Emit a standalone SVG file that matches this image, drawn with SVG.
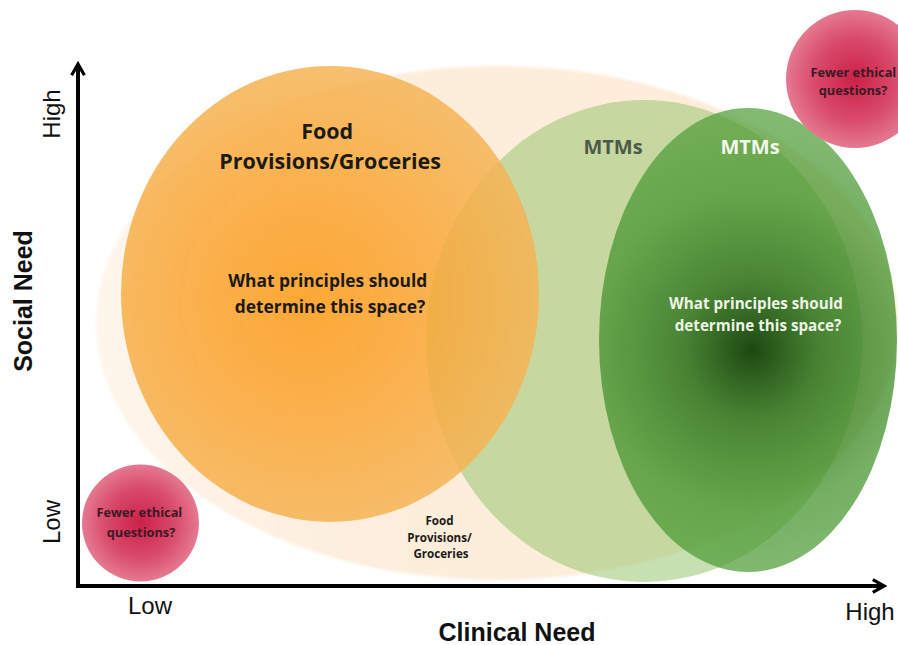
<svg xmlns="http://www.w3.org/2000/svg" width="898" height="645" viewBox="0 0 898 645">
  <style>
    .axis { fill: none; stroke: #000; stroke-width: 4; }
    .tick { font-family: "Liberation Sans", Arial, sans-serif; font-size: 24px; fill: #111; }
    .title { font-family: "Liberation Sans", Arial, sans-serif; font-size: 25px; font-weight: bold; fill: #111; }
    .lbl { font-family: "Open Sans", "Liberation Sans", sans-serif; font-weight: bold; text-anchor: middle; }
    .dark { fill: #1c1a16; }
    .pinktxt { fill: #3a1a26; font-size: 12.8px; }
  </style>
  <defs>
    <linearGradient id="paleFill" x1="0" y1="0" x2="1" y2="0">
      <stop offset="0" stop-color="#fef5eb"/>
      <stop offset="0.35" stop-color="#fdeedd"/>
      <stop offset="1" stop-color="#fdebd6"/>
    </linearGradient>
    <filter id="soft" x="-5%" y="-5%" width="110%" height="110%">
      <feGaussianBlur stdDeviation="1.5"/>
    </filter>
    <radialGradient id="orangeFill" gradientUnits="userSpaceOnUse" cx="305" cy="300" r="235">
      <stop offset="0" stop-color="#fd9b18"/>
      <stop offset="0.5" stop-color="#faa634"/>
      <stop offset="1" stop-color="#f5b455"/>
    </radialGradient>
    <radialGradient id="greenFill" gradientUnits="userSpaceOnUse" cx="752" cy="350" r="230">
      <stop offset="0" stop-color="#1d4812" stop-opacity="1"/>
      <stop offset="0.3" stop-color="#3a7a27" stop-opacity="0.9"/>
      <stop offset="0.7" stop-color="#47952f" stop-opacity="0.75"/>
      <stop offset="1" stop-color="#4c9c35" stop-opacity="0.7"/>
    </radialGradient>
    <radialGradient id="pinkFill" cx="0.5" cy="0.5" r="0.5">
      <stop offset="0" stop-color="#cc2048"/>
      <stop offset="0.6" stop-color="#d94b6b"/>
      <stop offset="1" stop-color="#e57990"/>
    </radialGradient>
    <marker id="chev" viewBox="0 0 10 10" refX="8" refY="5" markerWidth="4" markerHeight="4" orient="auto" markerUnits="strokeWidth">
      <path d="M1,1 L8,5 L1,9" fill="none" stroke="#000" stroke-width="2"/>
    </marker>
  </defs>

  <rect width="898" height="645" fill="#ffffff"/>

  <!-- broad food provision region -->
  <g id="food-region">
    <ellipse cx="497" cy="323" rx="401" ry="257" fill="url(#paleFill)" filter="url(#soft)"/>
    <text class="lbl dark" font-size="11.6">
      <tspan x="441" y="525">Food</tspan>
      <tspan x="441" y="541.5">Provisions/</tspan>
      <tspan x="441" y="558">Groceries</tspan>
    </text>
  </g>

  <!-- MTMs, broad region -->
  <g id="mtm-region">
    <ellipse cx="644" cy="341" rx="218" ry="241" fill="#8fc266" fill-opacity="0.5"/>
    <text class="lbl" x="613" y="154" font-size="20" fill="#4d5a4a">MTMs</text>
  </g>

  <!-- food provisions / groceries core -->
  <g id="food-core">
    <ellipse cx="330" cy="294" rx="209" ry="228" fill="url(#orangeFill)" fill-opacity="0.85"/>
    <text class="lbl dark" font-size="21.5">
      <tspan x="330" y="139">Food</tspan>
      <tspan x="330" y="169">Provisions/Groceries</tspan>
    </text>
    <text class="lbl dark" font-size="17.4">
      <tspan x="330" y="287">What principles should</tspan>
      <tspan x="330" y="313">determine this space?</tspan>
    </text>
  </g>

  <!-- MTMs core -->
  <g id="mtm-core">
    <ellipse cx="748" cy="340" rx="149" ry="232" fill="url(#greenFill)"/>
    <text class="lbl" x="750" y="154" font-size="20" fill="#f4f7ee">MTMs</text>
    <text class="lbl" font-size="15.2" fill="#eef4e6">
      <tspan x="758" y="309">What principles should</tspan>
      <tspan x="758" y="331">determine this space?</tspan>
    </text>
  </g>

  <!-- corner markers -->
  <g id="low-low">
    <circle cx="140.5" cy="523" r="58.5" fill="url(#pinkFill)"/>
    <text class="lbl pinktxt">
      <tspan x="141" y="517">Fewer ethical</tspan>
      <tspan x="141" y="537">questions?</tspan>
    </text>
  </g>
  <g id="high-high">
    <circle cx="855" cy="79" r="69" fill="url(#pinkFill)"/>
    <text class="lbl pinktxt">
      <tspan x="855" y="77">Fewer ethical</tspan>
      <tspan x="853" y="95">questions?</tspan>
    </text>
  </g>

  <!-- axes -->
  <g id="axes">
    <path class="axis" d="M78,586 L78,64" marker-end="url(#chev)"/>
    <path class="axis" d="M76,586 L884,586" marker-end="url(#chev)"/>
  </g>

  <!-- axis labels -->
  <g id="axis-labels">
    <text class="tick" transform="translate(60,114) rotate(-90)" text-anchor="middle">High</text>
    <text class="tick" transform="translate(60,522) rotate(-90)" text-anchor="middle">Low</text>
    <text class="title" transform="translate(32,301) rotate(-90)" text-anchor="middle">Social Need</text>
    <text class="tick" x="150" y="614" text-anchor="middle">Low</text>
    <text class="tick" x="870" y="620" text-anchor="middle">High</text>
    <text class="title" x="517" y="641" text-anchor="middle">Clinical Need</text>
  </g>
</svg>
